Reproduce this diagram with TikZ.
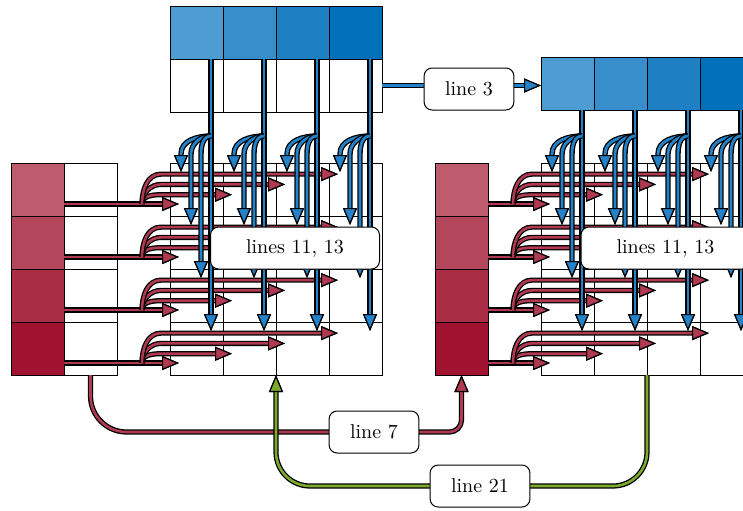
\documentclass[tikz,border=0pt]{standalone}
\usetikzlibrary{arrows.meta,calc}

\definecolor{redA}{RGB}{190,91,109}
\definecolor{redB}{RGB}{180,70,91}
\definecolor{redC}{RGB}{169,45,69}
\definecolor{redD}{RGB}{160,18,47}
\definecolor{blueA}{RGB}{77,156,210}
\definecolor{blueB}{RGB}{56,142,202}
\definecolor{blueC}{RGB}{30,128,195}
\definecolor{blueD}{RGB}{0,112,186}
\definecolor{arrblue}{RGB}{35,130,200}
\definecolor{arrred}{RGB}{175,58,82}
\definecolor{arrgreen}{RGB}{125,170,45}

\tikzset{
	cell/.style={draw, minimum size=26.5pt, inner sep=0pt, outer sep=0pt, line width=0.5pt},
	lbl/.style={draw, fill=white, rounded corners=4pt, inner xsep=10.5pt, minimum height=21pt, line width=0.5pt},
	bluearr/.style={draw=arrblue, line width=1.4pt,
		-{Triangle[length=8.5pt,width=7pt,color=black,fill=arrblue,line width=0.6pt]},
		preaction={draw=black, line width=2.7pt}},
	redarr/.style={draw=arrred, line width=1.3pt,
		-{Triangle[length=8.5pt,width=7pt,color=black,fill=arrred,line width=0.6pt]},
		preaction={draw=black, line width=2.6pt}},
	greenarr/.style={draw=arrgreen, line width=1.3pt,
		-{Triangle[length=8.5pt,width=7pt,color=black,fill=arrgreen,line width=0.6pt]},
		preaction={draw=black, line width=2.6pt}}
}

\begin{document}
\begin{tikzpicture}[x=0.5pt, y=-0.5pt]
			\useasboundingbox (0,0) rectangle (743,510);

			% row vectors and column vectors
			\foreach \i/\c in {1/redA, 2/redB, 3/redC, 4/redD}{
				\node[cell, fill=\c] (ra-\i) at (37.5, 136.5+53*\i) {};
				\node[cell] (wa-\i) at (90.5, 136.5+53*\i) {};
				\node[cell, fill=\c] (rb-\i) at (461.5, 136.5+53*\i) {};
			}
			\foreach \j/\c in {1/blueA, 2/blueB, 3/blueC, 4/blueD}{
				\node[cell, fill=\c] (ba-\j) at (143.5+53*\j, 32.5) {};
				\node[cell] (ta-\j) at (143.5+53*\j, 85.5) {};
				\node[cell, fill=\c] (bb-\j) at (514.5+53*\j, 83.5) {};
			}
			% the two grids
			\foreach \i in {1,...,4}
				\foreach \j in {1,...,4}{
					\node[cell] (ga-\i-\j) at (143.5+53*\j, 136.5+53*\i) {};
					\node[cell] (gb-\i-\j) at (514.5+53*\j, 136.5+53*\i) {};
				}

			% rows spread to the right
			\foreach \i in {1,...,4}{
				\coordinate (sa-\i) at ($(ga-\i-1.north west)+(-28,41)$);
				\coordinate (sb-\i) at ($(gb-\i-1.north west)+(-28,41)$);
				\draw[redarr] ($(wa-\i.north west)+(0,41)$) -- ($(ga-\i-1.north west)+(9,41)$);
				\draw[redarr] ($(rb-\i.north east)+(0,41)$) -- ($(gb-\i-1.north west)+(9,41)$);
				\foreach \k in {2,3,4}{
					\draw[redarr] (sa-\i) to[out=90, in=180] ($(ga-\i-1.north west)+(-9,{42-10.3*(\k-1)})$)
						-- ($(ga-\i-\k.north west)+(9,{42-10.3*(\k-1)})$);
					\draw[redarr] (sb-\i) to[out=90, in=180] ($(gb-\i-1.north west)+(-9,{42-10.3*(\k-1)})$)
						-- ($(gb-\i-\k.north west)+(9,{42-10.3*(\k-1)})$);
				}
			}

			% columns spread downwards
			\foreach \j in {1,...,4}{
				\coordinate (da-\j) at ($(ga-1-\j.north west)+(41,-27)$);
				\coordinate (db-\j) at ($(gb-1-\j.north west)+(41,-27)$);
				\draw[bluearr] ($(ba-\j.south west)+(41,0)$) -- ($(ga-4-\j.north west)+(41,9)$);
				\draw[bluearr] ($(bb-\j.south west)+(41,0)$) -- ($(gb-4-\j.north west)+(41,9)$);
				\foreach \k in {1,2,3}{
					\draw[bluearr] (da-\j) to[out=180, in=90] ($(ga-1-\j.north west)+({11+10*(\k-1)},-9)$)
						-- ($(ga-\k-\j.north west)+({11+10*(\k-1)},9)$);
					\draw[bluearr] (db-\j) to[out=180, in=90] ($(gb-1-\j.north west)+({11+10*(\k-1)},-9)$)
						-- ($(gb-\k-\j.north west)+({11+10*(\k-1)},9)$);
				}
			}

			% connections between the steps
			\draw[bluearr] (ta-4.east) -- (ta-4.east -| bb-1.west);
			\coordinate (c7) at (374, 432);
			\draw[redarr] (wa-4.south) [rounded corners=18pt] |- (c7) [rounded corners=6pt] -| (rb-4.south);
			\coordinate (c21) at (480, 486);
			\draw[greenarr, rounded corners=17pt] (gb-4-2.south east) |- (c21) -| (ga-4-2.south east);

			\node[lbl] (l3) at (469, 89) {line 3};
			\node[lbl, minimum width=84.5pt] (l11a) at (295, 248) {lines 11, 13};
			\node[lbl, minimum width=84.5pt] (l11b) at (665.5, 248) {lines 11, 13};
			\node[lbl] (l7) at (c7) {line 7};
			\node[lbl] (l21) at (c21) {line 21};
\end{tikzpicture}
\end{document}
